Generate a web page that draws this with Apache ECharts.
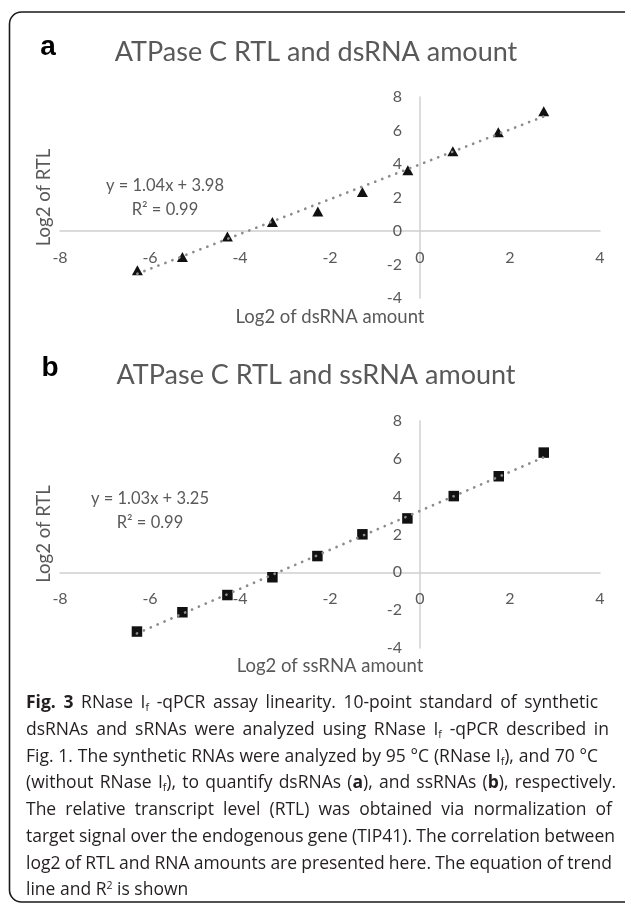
<!DOCTYPE html>
<html><head><meta charset="utf-8">
<script src="https://cdn.jsdelivr.net/npm/echarts@6/dist/echarts.min.js"></script>
<style>
html,body{margin:0;padding:0;background:#fff;}
#chart{position:absolute;left:0;top:0;width:625px;height:906px;}
#caption{position:absolute;left:0;top:0;width:625px;height:906px;pointer-events:none;font-family:"Open Sans",sans-serif;font-size:17.5px;color:#231f20;}
.ln{position:absolute;left:26px;white-space:nowrap;line-height:26.7px;height:26.7px;}
.ln sub,.ln sup{font-size:0.6em;line-height:0;}
.ln sub{vertical-align:-0.25em;}
.ln sup{vertical-align:0.6em;}
</style></head><body>
<div id="chart"></div>
<div id="caption"></div>
<script>
// ---- data ----
const panelLetters = ['a', 'b'];
const titles = ['ATPase C RTL and dsRNA amount', 'ATPase C RTL and ssRNA amount'];
const xNames = ['Log2 of dsRNA amount', 'Log2 of ssRNA amount'];
const yName = 'Log2 of RTL';
const xMin = -8, xMax = 4, yMin = -4, yMax = 8, tickStep = 2;

const dsX = [-6.28, -5.28, -4.28, -3.28, -2.27, -1.28, -0.27, 0.73, 1.74, 2.75];
const dsY = [-2.35, -1.55, -0.33, 0.54, 1.16, 2.33, 3.62, 4.76, 5.89, 7.15];
const ssX = [-6.29, -5.28, -4.28, -3.28, -2.28, -1.28, -0.28, 0.75, 1.75, 2.75];
const ssY = [-3.13, -2.11, -1.20, -0.26, 0.86, 2.01, 2.85, 4.03, 5.08, 6.33];

const trendSlope = [1.04, 1.03];
const trendIntercept = [3.98, 3.25];
const eqLines = ['y = 1.04x + 3.98', 'y = 1.03x + 3.25'];
const r2Lines = ['R² = 0.99', 'R² = 0.99'];

const captionLines = [
  '<b>Fig. 3</b> RNase I<sub>f</sub> -qPCR assay linearity. 10-point standard of synthetic',
  'dsRNAs and sRNAs were analyzed using RNase I<sub>f</sub> -qPCR described in',
  'Fig. 1. The synthetic RNAs were analyzed by 95 °C (RNase I<sub>f</sub>), and 70 °C',
  '(without RNase I<sub>f</sub>), to quantify dsRNAs (<b>a</b>), and ssRNAs (<b>b</b>), respectively.',
  'The relative transcript level (RTL) was obtained via normalization of',
  'target signal over the endogenous gene (TIP41). The correlation between',
  'log2 of RTL and RNA amounts are presented here. The equation of trend',
  'line and R<sup>2</sup> is shown'
];

// ---- layout ----
const FONT = 'Lato';
const GREY = '#595959';
const grids = [
  {left: 60, top: 97, width: 540, height: 201},
  {left: 60, top: 421, width: 540, height: 227}
];
const titleY = [52, 375];
const letterPos = [[48, 47], [50, 368]];
const xNameY = [317, 666];
const yNameCenter = [[44, 197.5], [44, 534]];
const eqPos = [[165, 186, 210], [150, 499, 523]];
const captionTop = 701.7;
const captionLH = 26.7;
const captionRight = [598, 609, 598, 616, 612, 615, 612];

const seriesX = [dsX, ssX];
const seriesY = [dsY, ssY];
const symbols = ['triangle', 'rect'];
const symbolSizes = [[11, 10], [10.5, 10.5]];

const chart = echarts.init(document.getElementById('chart'));

const xAxes = [], yAxes = [], series = [], graphic = [];
for (let i = 0; i < 2; i++) {
  const g = grids[i];
  // axes cross at zero: shift each axis from its grid edge to the zero position
  const xOff = -((0 - yMin) / (yMax - yMin)) * g.height;
  const yOff = -((0 - xMin) / (xMax - xMin)) * g.width;
  xAxes.push({
    type: 'value', gridIndex: i, min: xMin, max: xMax, interval: tickStep,
    position: 'bottom', offset: xOff,
    axisLine: {show: true, onZero: false, lineStyle: {color: '#d0d0d0', width: 1.5}},
    axisTick: {show: false}, splitLine: {show: false},
    axisLabel: {color: GREY, fontSize: 16, fontFamily: FONT, margin: 19}
  });
  yAxes.push({
    type: 'value', gridIndex: i, min: yMin, max: yMax, interval: tickStep,
    position: 'left', offset: yOff,
    axisLine: {show: true, onZero: false, lineStyle: {color: '#d0d0d0', width: 1.5}},
    axisTick: {show: false}, splitLine: {show: false},
    axisLabel: {color: GREY, fontSize: 16, fontFamily: FONT, margin: 18}
  });
  const pts = seriesX[i].map((x, k) => [x, seriesY[i][k]]);
  series.push({
    type: 'scatter', xAxisIndex: i, yAxisIndex: i, data: pts,
    symbol: symbols[i], symbolSize: symbolSizes[i],
    itemStyle: {color: '#111111', opacity: 1}, z: 2, silent: true
  });
  const x0 = Math.min(...seriesX[i]), x1 = Math.max(...seriesX[i]);
  series.push({
    type: 'line', xAxisIndex: i, yAxisIndex: i,
    data: [[x0, trendSlope[i] * x0 + trendIntercept[i]], [x1, trendSlope[i] * x1 + trendIntercept[i]]],
    symbol: 'none', z: 3, silent: true,
    lineStyle: {color: '#8c8c8c', width: 2.7, type: [0.1, 7.4], cap: 'round'}
  });
  graphic.push({
    type: 'text', x: 316, y: titleY[i],
    style: {text: titles[i], fill: GREY, font: '27px ' + FONT, align: 'center', verticalAlign: 'middle'}
  });
  graphic.push({
    type: 'text', x: letterPos[i][0], y: letterPos[i][1],
    style: {text: panelLetters[i], fill: '#000', font: 'bold 28px "Liberation Sans"', align: 'center', verticalAlign: 'middle'}
  });
  graphic.push({
    type: 'text', x: 330, y: xNameY[i],
    style: {text: xNames[i], fill: GREY, font: '18.5px ' + FONT, align: 'center', verticalAlign: 'middle'}
  });
  graphic.push({
    type: 'text', x: yNameCenter[i][0], y: yNameCenter[i][1], rotation: Math.PI / 2,
    style: {text: yName, fill: GREY, font: '18.5px ' + FONT, align: 'center', verticalAlign: 'middle'}
  });
  graphic.push({
    type: 'text', x: eqPos[i][0], y: eqPos[i][1],
    style: {text: eqLines[i], fill: GREY, font: '16.5px ' + FONT, align: 'center', verticalAlign: 'middle'}
  });
  graphic.push({
    type: 'text', x: eqPos[i][0], y: eqPos[i][2],
    style: {text: r2Lines[i], fill: GREY, font: '16.5px ' + FONT, align: 'center', verticalAlign: 'middle'}
  });
}
graphic.push({
  type: 'rect', shape: {x: 9.5, y: 12, width: 700, height: 890, r: 12},
  style: {fill: 'none', stroke: '#1a1a1a', lineWidth: 1.6}, z: -1
});

chart.setOption({
  backgroundColor: '#ffffff',
  animation: false,
  grid: grids.map(g => Object.assign({containLabel: false, outerBoundsMode: 'none'}, g)),
  xAxis: xAxes, yAxis: yAxes, series: series, graphic: graphic
});

// caption
const cap = document.getElementById('caption');
captionLines.forEach((html, i) => {
  const d = document.createElement('div');
  d.className = 'ln';
  d.style.top = (captionTop - captionLH / 2 + i * captionLH) + 'px';
  d.innerHTML = html;
  cap.appendChild(d);
});
function justify() {
  const lines = cap.querySelectorAll('.ln');
  lines.forEach((d, i) => {
    if (i >= captionRight.length) return;
    d.style.wordSpacing = '0px';
    const w = d.getBoundingClientRect().width;
    const spaces = (d.textContent.match(/ /g) || []).length;
    const target = captionRight[i] - 26;
    if (spaces > 0) d.style.wordSpacing = ((target - w) / spaces) + 'px';
  });
}
justify();
if (document.fonts && document.fonts.ready) document.fonts.ready.then(justify);
</script>
</body></html>
